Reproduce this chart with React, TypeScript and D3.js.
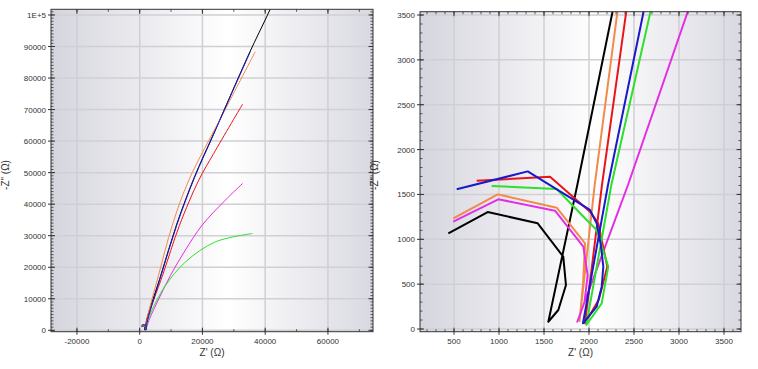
import React from 'react';
import * as d3 from 'd3';

// impedance spectra, [Z' , -Z''] in ohm, high frequency -> low frequency
const blackZ: [number, number][] = [
  [437, 1067], [874, 1304], [1430, 1178], [1714, 806], [1744, 490], [1659, 212], [1548, 81],
  [1870, 1605], [2263, 3545], [6900, 18000], [11700, 33340], [17400, 48500], [23400, 62000],
  [29300, 75300], [35150, 88360], [40600, 99700], [43300, 105600],
];
const orangeZ: [number, number][] = [
  [492, 1234], [986, 1501], [1641, 1352], [1956, 955], [1935, 520], [1895, 90],
  [2063, 1605], [2317, 3545], [6000, 17460], [10400, 33340], [15660, 47625], [26200, 68000], [36830, 88360],
];
const magentaZ: [number, number][] = [
  [492, 1196], [992, 1446], [1622, 1319], [1937, 918], [1985, 600], [1950, 300], [1870, 81],
  [2433, 1605], [3100, 3545], [6140, 10060], [9840, 17460], [14400, 25200], [19900, 33340],
  [27300, 41275], [32800, 46570],
];
const redZ: [number, number][] = [
  [752, 1653], [1567, 1698], [2011, 1308], [2103, 1178], [2203, 695], [2110, 330], [1955, 64],
  [2144, 1605], [2415, 3545], [7300, 17460], [12700, 33340], [18840, 47625], [23600, 56100], [32810, 71750],
];
const greenZ: [number, number][] = [
  [919, 1594], [1641, 1561], [1974, 1215], [2085, 1104], [2214, 695], [2141, 286], [1970, 45],
  [2248, 1605], [2685, 3545], [5200, 9000], [8260, 14290], [14600, 21700], [24130, 28040], [35980, 30700],
];
const blueZ: [number, number][] = [
  [530, 1557], [1319, 1757], [2011, 1327], [2085, 1178], [2130, 950], [2159, 695], [2141, 472],
  [2085, 249], [1933, 64], [2211, 1605], [2608, 3545], [7000, 18000], [11800, 33340], [17500, 48500],
  [23500, 62000], [29400, 75300], [35240, 88360],
];

const seriesList = [
  { name: 'black', color: '#000000', data: blackZ },
  { name: 'orange', color: '#f28a4c', data: orangeZ },
  { name: 'magenta', color: '#e42ee4', data: magentaZ },
  { name: 'red', color: '#e8141c', data: redZ },
  { name: 'green', color: '#2ee02e', data: greenZ },
  { name: 'blue', color: '#1a1ac8', data: blueZ },
];

const leftXTicks = [-20000, 0, 20000, 40000, 60000];
const leftYTicks = [0, 10000, 20000, 30000, 40000, 50000, 60000, 70000, 80000, 90000, 100000];
const rightXTicks = [500, 1000, 1500, 2000, 2500, 3000, 3500];
const rightYTicks = [0, 500, 1000, 1500, 2000, 2500, 3000, 3500];

const xTitle = "Z' (Ω)";
const yTitle = '-Z" (Ω)';

const FONT = 'Liberation Sans, Arial, sans-serif';

const panels = [
  {
    id: 'left',
    x0: 51, x1: 373, y0: 9.3, y1: 331.7,
    xDomain: [-28270, 74360], yDomain: [-444, 101800],
    xTicks: leftXTicks, yTicks: leftYTicks,
    xMinor: 10000, yMinor: 1000,
    lineWidth: 1,
    smooth: true,
    fmtY: (v: number) => (v === 100000 ? '1E+5' : String(v)),
  },
  {
    id: 'right',
    x0: 420, x1: 741, y0: 11.7, y1: 331.7,
    xDomain: [122, 3689], yDomain: [-30, 3537],
    xTicks: rightXTicks, yTicks: rightYTicks,
    xMinor: 100, yMinor: 100,
    lineWidth: 2,
    smooth: false,
    fmtY: (v: number) => String(v),
  },
];

const Panel = ({ p }: { p: typeof panels[number] }) => {
  const x = d3.scaleLinear().domain(p.xDomain).range([p.x0, p.x1]);
  const y = d3.scaleLinear().domain(p.yDomain).range([p.y1, p.y0]);
  const line = d3.line<[number, number]>()
    .x(d => x(d[0]))
    .y(d => y(d[1]))
    .curve(p.smooth ? d3.curveCatmullRom.alpha(0.5) : d3.curveLinear);
  const xMinor = d3.range(Math.ceil(p.xDomain[0] / p.xMinor) * p.xMinor, p.xDomain[1], p.xMinor);
  const yMinor = d3.range(Math.ceil(p.yDomain[0] / p.yMinor) * p.yMinor, p.yDomain[1], p.yMinor);
  const w = p.x1 - p.x0;
  const h = p.y1 - p.y0;
  const cx = (p.x0 + p.x1) / 2;

  return (
    <g>
      <defs>
        <linearGradient id={`bg-${p.id}`} x1="0" x2="1" y1="0" y2="0">
          <stop offset="0" stopColor="#d5d5de" />
          <stop offset="0.55" stopColor="#ffffff" />
          <stop offset="1" stopColor="#d9d9e2" />
        </linearGradient>
        <clipPath id={`clip-${p.id}`}>
          <rect x={p.x0} y={p.y0} width={w} height={h} />
        </clipPath>
      </defs>
      <rect x={p.x0} y={p.y0} width={w} height={h} fill={`url(#bg-${p.id})`} />

      {/* grid */}
      {p.xTicks.map(t => (
        <line key={`gx${t}`} x1={x(t)} x2={x(t)} y1={p.y0} y2={p.y1} stroke="#cfcfd4" strokeWidth={1.5} />
      ))}
      {p.yTicks.map(t => (
        <line key={`gy${t}`} x1={p.x0} x2={p.x1} y1={y(t)} y2={y(t)} stroke="#cfcfd4" strokeWidth={1.5} />
      ))}

      <g clipPath={`url(#clip-${p.id})`}>
        {seriesList.map(s => (
          <path key={s.name} d={line(s.data) || ''} fill="none" stroke={s.color}
            strokeWidth={p.lineWidth} strokeLinejoin="round" />
        ))}
      </g>

      {/* frame */}
      <rect x={p.x0} y={p.y0} width={w} height={h} fill="none" stroke="#333" strokeWidth={1} />

      {/* minor ticks */}
      {xMinor.map(t => (
        <g key={`mx${t}`} stroke="#333" strokeWidth={0.8}>
          <line x1={x(t)} x2={x(t)} y1={p.y1} y2={p.y1 - 2.5} />
          <line x1={x(t)} x2={x(t)} y1={p.y0} y2={p.y0 + 2.5} />
        </g>
      ))}
      {yMinor.map(t => (
        <g key={`my${t}`} stroke="#333" strokeWidth={0.8}>
          <line x1={p.x0} x2={p.x0 + 2.5} y1={y(t)} y2={y(t)} />
          <line x1={p.x1} x2={p.x1 - 2.5} y1={y(t)} y2={y(t)} />
        </g>
      ))}

      {/* major ticks + labels */}
      {p.xTicks.map(t => (
        <g key={`tx${t}`}>
          <g stroke="#333" strokeWidth={1}>
            <line x1={x(t)} x2={x(t)} y1={p.y1 + 3} y2={p.y1 - 4} />
            <line x1={x(t)} x2={x(t)} y1={p.y0} y2={p.y0 + 4.5} />
          </g>
          <text x={x(t)} y={p.y1 + 12} textAnchor="middle" fontSize={8} fill="#333" fontFamily={FONT}>{t}</text>
        </g>
      ))}
      {p.yTicks.map(t => (
        <g key={`ty${t}`}>
          <g stroke="#333" strokeWidth={1}>
            <line x1={p.x0 - 3} x2={p.x0 + 4} y1={y(t)} y2={y(t)} />
            <line x1={p.x1} x2={p.x1 - 4.5} y1={y(t)} y2={y(t)} />
          </g>
          <text x={p.x0 - 5} y={y(t) + 3} textAnchor="end" fontSize={8} fill="#333" fontFamily={FONT}>{p.fmtY(t)}</text>
        </g>
      ))}

      <text x={cx} y={356} textAnchor="middle" fontSize={10} fill="#333" fontFamily={FONT}>{xTitle}</text>
      <text transform={`translate(${p.x0 - 42},175) rotate(-90)`} textAnchor="middle" fontSize={10}
        fill="#333" fontFamily={FONT}>{yTitle}</text>
    </g>
  );
};

export default function App() {
  return (
    <svg width={758} height={369} style={{ position: 'absolute', left: 0, top: 0, background: '#fff' }}>
      <rect x={0} y={0} width={758} height={369} fill="#fff" />
      {panels.map(p => <Panel key={p.id} p={p} />)}
    </svg>
  );
}
